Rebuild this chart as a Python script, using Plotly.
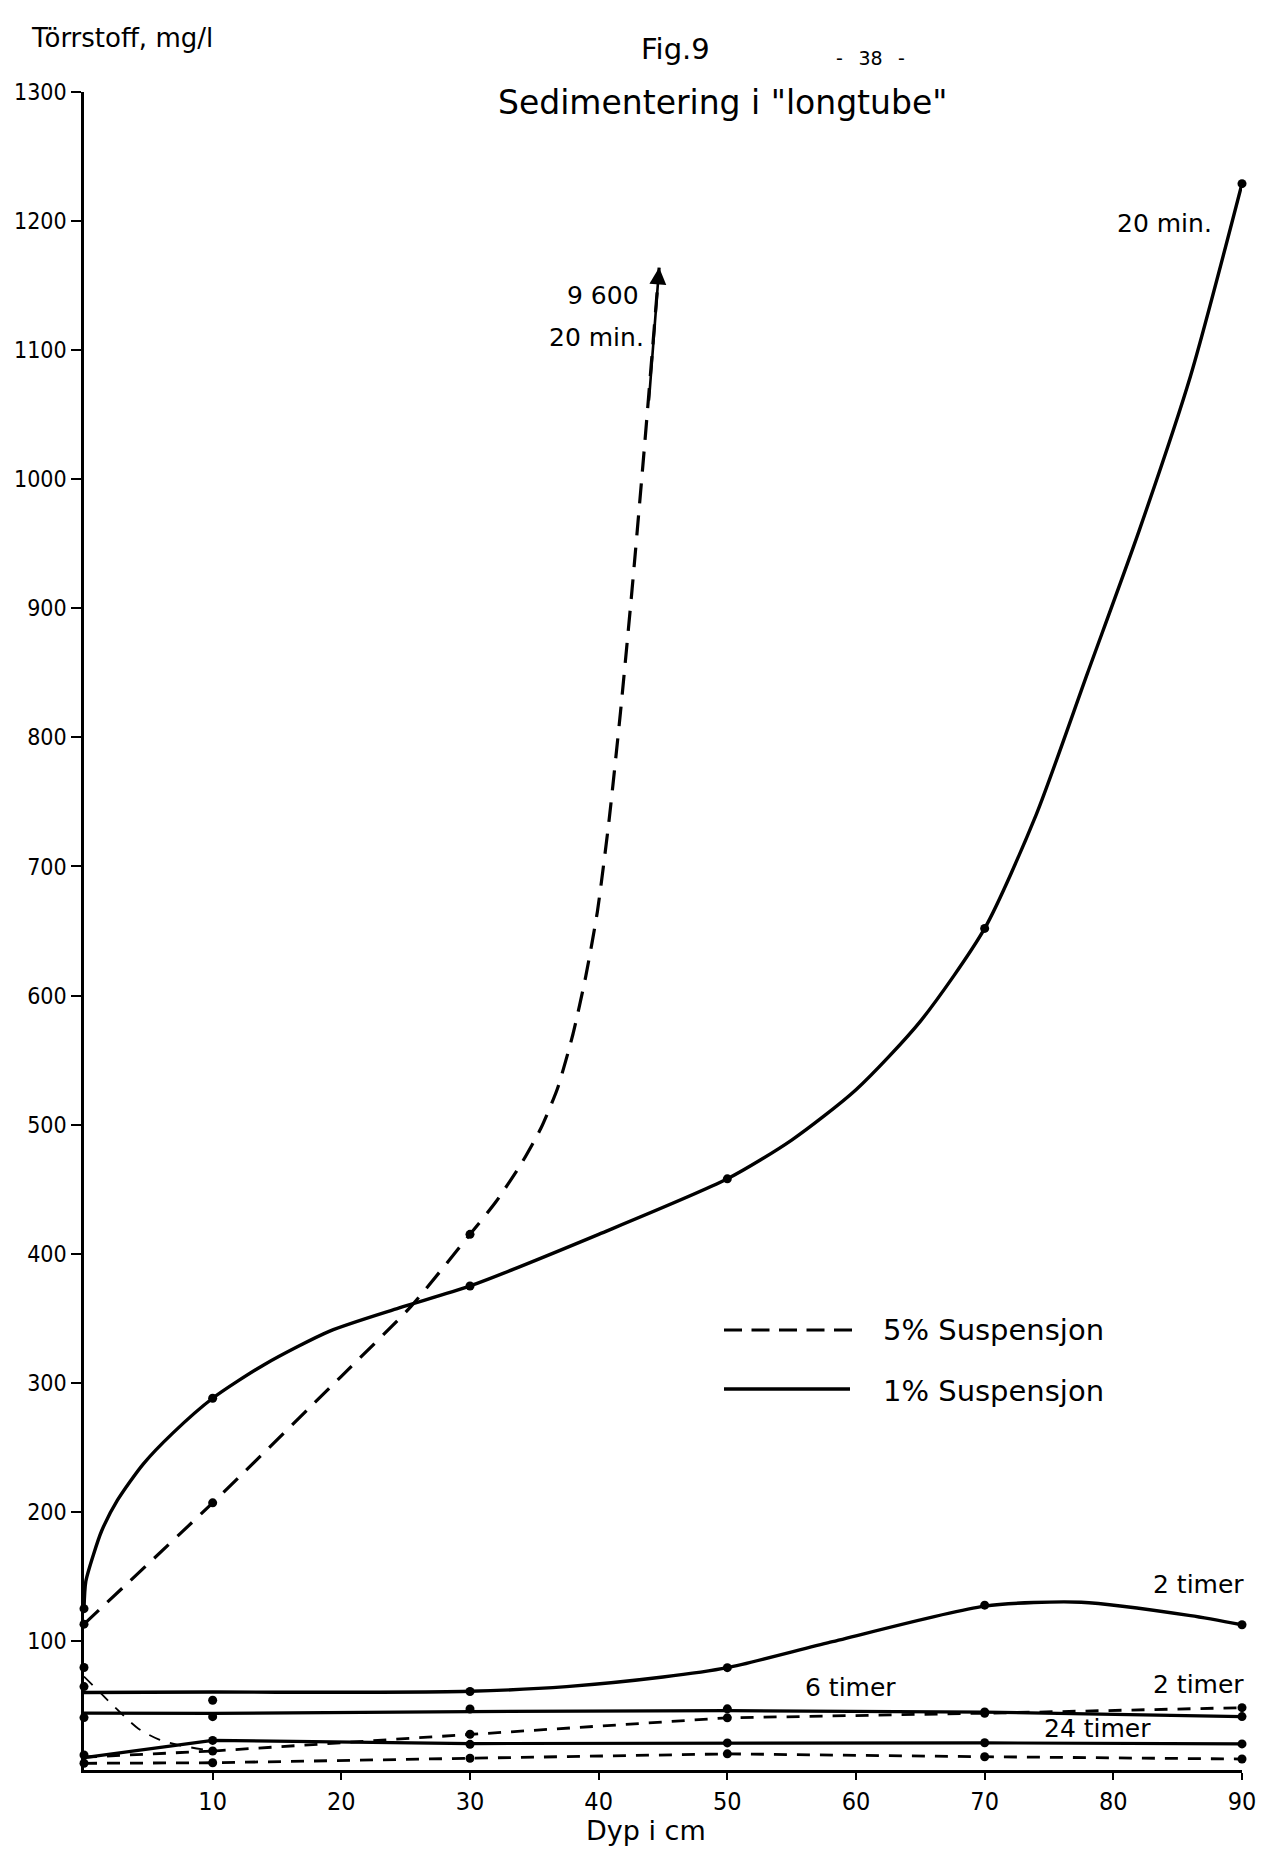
import plotly.graph_objects as go

FONT_C = "DejaVu Sans Condensed, Liberation Sans Narrow, DejaVu Sans, sans-serif"
FONT = "DejaVu Sans, Liberation Sans, sans-serif"

# ---------------- data ----------------
depth = [0, 10, 30, 50, 70, 90]          # Dyp i cm

# 1 % Suspensjon - measured points (mg/l)
p1_20min = [125, 288, 375, 458, 652, 1229]
p1_2t = [64.6, 54, 60.8, 79.3, 127.7, 112.5]
p1_6t = [40.6, 41.3, 47.3, 47.4, 44.9, 41.4]
p1_24t = [11.6, 22.9, 19.9, 21.0, 21.1, 20.2]

# 5 % Suspensjon - measured points (mg/l)
p5_20min_depth = [0, 10, 30]
p5_20min = [113, 207, 415]
p5_2t = [79.4, 14.7, 27.7, 40.4, 44.0, 48.3]
p5_low = [5.2, 5.6, 9.1, 12.5, 10.3, 8.5]

# drawn (hand-smoothed) curves
c1_20min_x = [0, 0.14, 0.74, 1.36, 2.6, 4.6, 6.9, 10, 14, 19.1, 24.5, 30, 40, 50, 55, 60, 65,
              70, 74, 78, 82, 86, 90]
c1_20min_y = [125, 146, 167, 185, 209, 237, 261, 288, 314, 340, 358, 375, 415, 458, 488, 527,
              580, 652, 740, 850, 960, 1080, 1229]

c1_2t_x = [0, 10, 20, 30, 37.5, 45, 50, 58, 70, 77.5, 86, 90]
c1_2t_y = [60, 60.4, 60.2, 61, 64.6, 72, 79.3, 99, 127, 130, 119.6, 112.5]

c1_6t_y = [44, 43.8, 45.3, 46, 44.9, 41.4]
c1_24t_y = [9.6, 22.9, 20.5, 21.0, 21.0, 20.2]

c5_20min_x = [0, 10, 20, 25.4, 30, 32, 34, 35.5, 36.8, 38, 39, 39.9, 40.8, 41.7, 42.6, 43.6, 44.7]
c5_20min_y = [113, 207, 305, 359, 415, 440, 470, 497, 528, 570, 615, 665, 735, 820, 915, 1030, 1164]

c5_2t_thin_x = [0, 1.16, 2.7, 4.26, 5.8, 7.35, 10]
c5_2t_thin_y = [72.4, 60.9, 45.7, 31.8, 23.7, 19.3, 14.7]
c5_2t_x = [10, 30, 50, 70, 90]
c5_2t_y = [14.7, 27.7, 40.4, 44.0, 48.3]

c5_short_x = [0, 10]
c5_short_y = [10, 14.7]

y_ticks = list(range(100, 1400, 100))
x_ticks = list(range(10, 100, 10))

# ---------------- figure ----------------
W, H = 1265, 1850
L, R, T, B = 76, 31, 84, 88
PW, PH = W - L - R, H - T - B


def px(fx):                  # page pixel -> paper x
    return (fx - L) / PW


def py(fy):                  # page pixel -> paper y
    return 1 - (fy - T) / PH


fig = go.Figure()

SOLID_S = dict(color="black", width=3.4, shape="spline", smoothing=0.7)
SOLID_L = dict(color="black", width=3.2, shape="linear")
DASH_L = dict(color="black", width=3.2, dash="20px,12px", shape="spline", smoothing=0.6)
DASH_S = dict(color="black", width=2.8, dash="13px,10px", shape="linear")
DASH_T = dict(color="black", width=1.8, dash="12px,10px", shape="spline", smoothing=0.8)


def line(x, y, style):
    fig.add_trace(go.Scatter(x=x, y=y, mode="lines", line=style, cliponaxis=False,
                             hoverinfo="skip", showlegend=False))


def dots(x, y):
    fig.add_trace(go.Scatter(x=x, y=y, mode="markers", cliponaxis=False,
                             marker=dict(color="black", size=9), showlegend=False))


# 1 % curves (solid)
line(c1_20min_x, c1_20min_y, SOLID_S)
line(c1_2t_x, c1_2t_y, SOLID_S)
line(depth, c1_6t_y, SOLID_L)
line(depth, c1_24t_y, SOLID_L)

# 5 % curves (dashed)
line(c5_20min_x, c5_20min_y, DASH_L)
line(c5_2t_thin_x, c5_2t_thin_y, DASH_T)
line(c5_2t_x, c5_2t_y, DASH_S)
line(c5_short_x, c5_short_y, DASH_S)
line(depth, p5_low, DASH_S)

# measured points
dots(depth, p1_20min)
dots(depth, p1_2t)
dots(depth, p1_6t)
dots(depth, p1_24t)
dots(p5_20min_depth, p5_20min)
dots(depth, p5_2t)
dots(depth, p5_low)

# arrow at the top of the 5 % 20 min curve (value 9600)
fig.add_annotation(x=c5_20min_x[-1], y=c5_20min_y[-1], ax=c5_20min_x[-2] + 0.3,
                   ay=c5_20min_y[-2] + 30, xref="x", yref="y", axref="x", ayref="y",
                   text="", showarrow=True, arrowhead=2, arrowsize=1.3, arrowwidth=2.6,
                   arrowcolor="black")

fig.update_layout(
    width=W, height=H,
    margin=dict(l=L, r=R, t=T, b=B),
    paper_bgcolor="white", plot_bgcolor="white",
    font=dict(family=FONT_C, size=24, color="black"),
    showlegend=False,
    xaxis=dict(range=[0, 90], tickvals=x_ticks, ticks="outside", ticklen=7, tickwidth=2,
               tickcolor="black", showline=True, linecolor="black", linewidth=2.5,
               showgrid=False, zeroline=False, automargin=False,
               tickfont=dict(size=25, family=FONT_C)),
    yaxis=dict(range=[0, 1300], tickvals=y_ticks, ticks="outside", ticklen=10, tickwidth=2,
               tickcolor="black", showline=True, linecolor="black", linewidth=2.5,
               showgrid=False, zeroline=False, automargin=False,
               tickfont=dict(size=23, family=FONT_C)),
)

# legend (drawn by hand as in the original)
fig.add_shape(type="line", xref="paper", yref="paper", x0=px(716), x1=px(844),
              y0=py(1322), y1=py(1322), line=dict(color="black", width=3, dash="18px,9.5px"))
fig.add_shape(type="line", xref="paper", yref="paper", x0=px(716), x1=px(842),
              y0=py(1381), y1=py(1381), line=dict(color="black", width=3.5))
for t, fy in [("5% Suspensjon", 1322), ("1% Suspensjon", 1383)]:
    fig.add_annotation(text=t, xref="paper", yref="paper", x=px(873), y=py(fy),
                       showarrow=False, xanchor="left", yanchor="middle",
                       font=dict(family=FONT, size=29, color="black"))

texts = [
    # text, page x, page y, size
    ("Törrstoff, mg/l", 114, 30, 26),
    ("Fig.9", 667, 41, 29),
    ("-\u2002 38 \u2002-", 862, 50, 19),
    ("Sedimentering i \"longtube\"", 714, 94, 33),
    ("Dyp i cm", 638, 1822, 27),
]
for t, fx, fy, sz in texts:
    fig.add_annotation(text=t, xref="paper", yref="paper", x=px(fx), y=py(fy),
                       showarrow=False, font=dict(family=FONT, size=sz, color="black"),
                       xanchor="center", yanchor="middle")

labels = [
    ("9 600", 43.3, 1142, 25, "right"),
    ("20 min.", 43.7, 1110, 25, "right"),
    ("20 min.", 84.0, 1198, 25, "center"),
    ("2 timer", 86.6, 144, 25, "center"),
    ("6 timer", 59.6, 63.6, 25, "center"),
    ("2 timer", 86.6, 66, 25, "center"),
    ("24 timer", 78.8, 32, 25, "center"),
]
for t, xv, yv, sz, anc in labels:
    fig.add_annotation(text=t, x=xv, y=yv, xref="x", yref="y", showarrow=False,
                       xanchor=anc, yanchor="middle",
                       font=dict(family=FONT, size=sz, color="black"))

fig.write_html("out.html")
